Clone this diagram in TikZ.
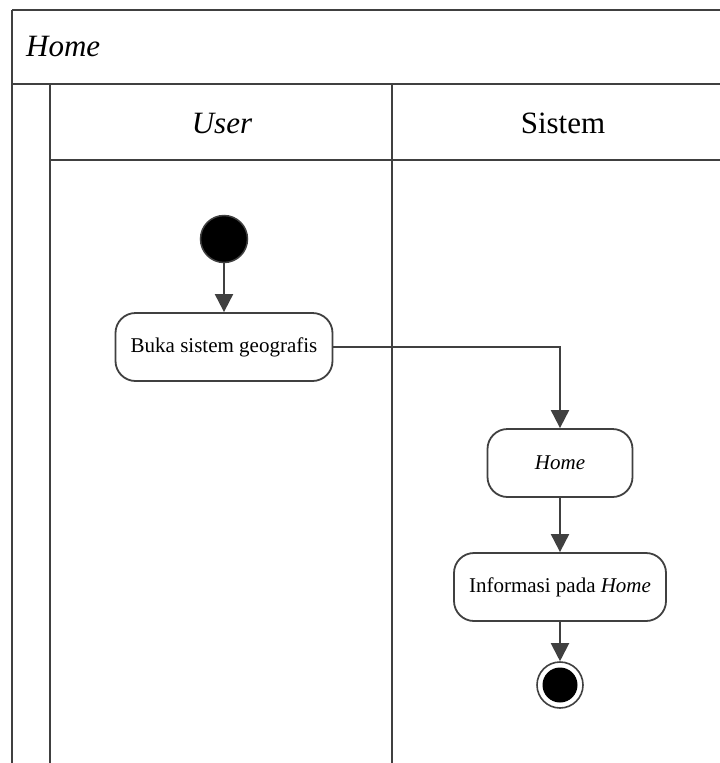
\documentclass[tikz,border=0pt]{standalone}
\usepackage{fontspec}
\setmainfont{Liberation Serif}
\usetikzlibrary{arrows.meta}
\definecolor{edge}{HTML}{404040}
\begin{document}
\begin{tikzpicture}[x=1pt,y=-1pt,
  lane/.style={draw=edge,line width=2pt},
  headtext/.style={font=\fontsize{31}{36}\selectfont,inner sep=0pt},
  action/.style={draw=edge,line width=1.8pt,rounded corners=20pt,fill=white,
    minimum height=68pt,inner sep=0pt,font=\fontsize{21}{25}\selectfont},
  flow/.style={draw=edge,line width=2pt,-{Triangle[length=18pt,width=18pt]}},
  startnode/.style={circle,draw=edge,line width=1.5pt,fill=black,minimum size=47pt,inner sep=0pt},
  finishnode/.style={circle,draw=edge,line width=1.6pt,fill=white,minimum size=46pt,inner sep=0pt,
    path picture={\fill[black] (path picture bounding box.center) circle (17.5pt);}}]
  \useasboundingbox (0,0) rectangle (720,763);
  \fill[white] (0,0) rectangle (720,763);
  \clip (0,0) rectangle (720,763);

  % pool and swimlane frame
  \draw[lane] (12,10) -- (760,10);
  \draw[lane] (12,10) -- (12,800);
  \draw[lane] (12,84) -- (760,84);
  \draw[lane] (50,84) -- (50,800);
  \draw[lane] (50,160) -- (760,160);
  \draw[lane] (392,84) -- (392,800);

  % titles
  \node[headtext,anchor=west] (pool) at (26,47) {\textit{Home}};
  \node[headtext] (laneuser) at (222,123) {\textit{User}};
  \node[headtext] (lanesys) at (563,123) {Sistem};

  % activity nodes
  \node[startnode] (start) at (224,239) {};
  \node[action,minimum width=217pt] (buka) at (224,347) {Buka sistem geografis};
  \node[action,minimum width=145pt] (home) at (560,463) {\textit{Home}};
  \node[action,minimum width=212pt] (info) at (560,587) {Informasi pada \textit{Home}};
  \node[finishnode] (finish) at (560,685) {};

  % control flow
  \draw[flow] (start) -- (buka);
  \draw[flow] (buka.east) -| (home.north);
  \draw[flow] (home) -- (info);
  \draw[flow] (info) -- (finish);
\end{tikzpicture}
\end{document}
